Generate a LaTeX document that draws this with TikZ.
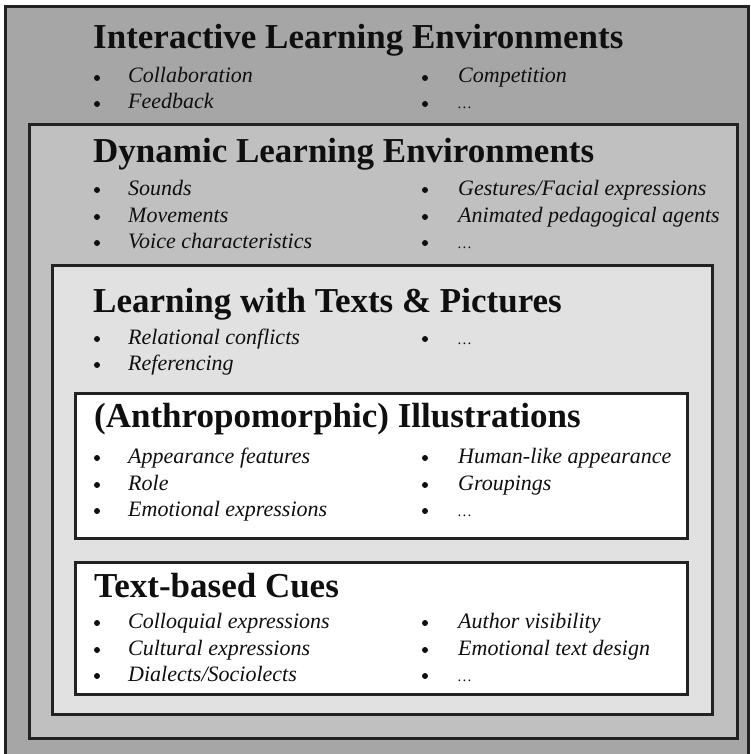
\documentclass[tikz,border=0pt]{standalone}
\usepackage{fontspec}
\setmainfont{Liberation Serif}
\usetikzlibrary{positioning}
\definecolor{frame}{RGB}{34,34,34}
\definecolor{outergray}{RGB}{166,166,166}
\definecolor{midgray}{RGB}{192,192,192}
\definecolor{lightgray}{RGB}{225,225,225}
\definecolor{ink}{RGB}{15,15,15}

\begin{document}
\begin{tikzpicture}[x=1pt,y=-1pt,
    level/.style={draw=frame, line width=3pt},
    heading/.style={anchor=base west, inner sep=0pt, text=ink,
      font=\fontsize{35}{35}\selectfont\bfseries},
    dot/.style={circle, fill=ink, inner sep=0pt, minimum size=6pt,
      yshift=5pt},
    entry/.style={anchor=base west, inner sep=0pt, text=ink,
      font=\fontsize{22}{22}\selectfont\itshape},
    more/.style={anchor=base west, inner sep=0pt, text=ink,
      font=\fontsize{15}{15}\selectfont\itshape}]

\useasboundingbox (0,0) rectangle (750,754);
\clip (0,0) rectangle (750,754);

% Columns of the bullet lists
\def\BulA{97}
\def\TxtA{128}
\def\BulB{425}
\def\TxtB{458}

%---------------------------------------
% Nested frames
%---------------------------------------
\draw[level, fill=outergray] (5,7) rectangle (748,762);
\draw[level, fill=midgray]   (29,125) rectangle (737,738);
\draw[level, fill=lightgray] (52,265) rectangle (712,714);
\draw[level, fill=white]     (75,393) rectangle (687,538);
\draw[level, fill=white]     (75,562) rectangle (687,694);

%====================================================
% Interactive learning environments
%====================================================
\node[heading] (ile) at (93,49) {Interactive Learning Environments};
\node[dot]   (ile1b) at (\BulA,83)  {};
\node[entry] (ile1)  at (\TxtA,83)  {Collaboration};
\node[dot]   (ile2b) at (\BulA,109) {};
\node[entry] (ile2)  at (\TxtA,109) {Feedback};
\node[dot]   (ile3b) at (\BulB,83)  {};
\node[entry] (ile3)  at (\TxtB,83)  {Competition};
\node[dot]   (ile4b) at (\BulB,109) {};
\node[more]  (ile4)  at (\TxtB,109) {\ldots};

%====================================================
% Dynamic learning environments
%====================================================
\node[heading] (dle) at (93,163) {Dynamic Learning Environments};
\node[dot]   (dle1b) at (\BulA,195) {};
\node[entry] (dle1)  at (\TxtA,195) {Sounds};
\node[dot]   (dle2b) at (\BulA,222) {};
\node[entry] (dle2)  at (\TxtA,222) {Movements};
\node[dot]   (dle3b) at (\BulA,248) {};
\node[entry] (dle3)  at (\TxtA,248) {Voice characteristics};
\node[dot]   (dle4b) at (\BulB,195) {};
\node[entry] (dle4)  at (\TxtB,195) {Gestures/Facial expressions};
\node[dot]   (dle5b) at (\BulB,222) {};
\node[entry] (dle5)  at (\TxtB,222) {Animated pedagogical agents};
\node[dot]   (dle6b) at (\BulB,248) {};
\node[more]  (dle6)  at (\TxtB,248) {\ldots};

%====================================================
% Learning with texts and pictures
%====================================================
\node[heading] (ltp) at (93,312) {Learning with Texts \& Pictures};
\node[dot]   (ltp1b) at (\BulA,344) {};
\node[entry] (ltp1)  at (\TxtA,344) {Relational conflicts};
\node[dot]   (ltp2b) at (\BulA,370) {};
\node[entry] (ltp2)  at (\TxtA,370) {Referencing};
\node[dot]   (ltp3b) at (\BulB,344) {};
\node[more]  (ltp3)  at (\TxtB,344) {\ldots};

%====================================================
% (Anthropomorphic) illustrations
%====================================================
\node[heading] (ill) at (94,427) {(Anthropomorphic) Illustrations};
\node[dot]   (ill1b) at (\BulA,463) {};
\node[entry] (ill1)  at (\TxtA,463) {Appearance features};
\node[dot]   (ill2b) at (\BulA,490) {};
\node[entry] (ill2)  at (\TxtA,490) {Role};
\node[dot]   (ill3b) at (\BulA,516) {};
\node[entry] (ill3)  at (\TxtA,516) {Emotional expressions};
\node[dot]   (ill4b) at (\BulB,463) {};
\node[entry] (ill4)  at (\TxtB,463) {Human-like appearance};
\node[dot]   (ill5b) at (\BulB,490) {};
\node[entry] (ill5)  at (\TxtB,490) {Groupings};
\node[dot]   (ill6b) at (\BulB,516) {};
\node[more]  (ill6)  at (\TxtB,516) {\ldots};

%====================================================
% Text-based cues
%====================================================
\node[heading] (tbc) at (94,597) {Text-based Cues};
\node[dot]   (tbc1b) at (\BulA,628) {};
\node[entry] (tbc1)  at (\TxtA,628) {Colloquial expressions};
\node[dot]   (tbc2b) at (\BulA,655) {};
\node[entry] (tbc2)  at (\TxtA,655) {Cultural expressions};
\node[dot]   (tbc3b) at (\BulA,681) {};
\node[entry] (tbc3)  at (\TxtA,681) {Dialects/Sociolects};
\node[dot]   (tbc4b) at (\BulB,628) {};
\node[entry] (tbc4)  at (\TxtB,628) {Author visibility};
\node[dot]   (tbc5b) at (\BulB,655) {};
\node[entry] (tbc5)  at (\TxtB,655) {Emotional text design};
\node[dot]   (tbc6b) at (\BulB,681) {};
\node[more]  (tbc6)  at (\TxtB,681) {\ldots};

\end{tikzpicture}
\end{document}
